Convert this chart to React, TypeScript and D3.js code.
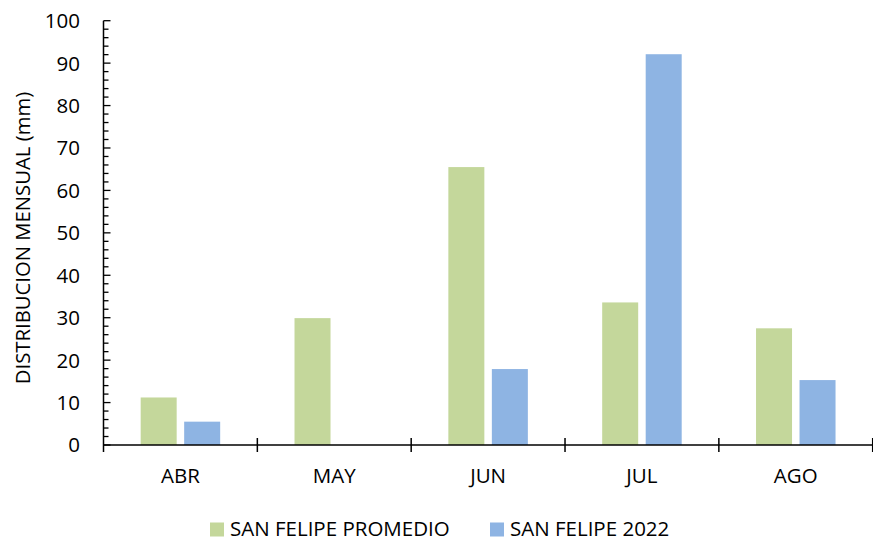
import React from "react";
import * as d3 from "d3";

const categories = ["ABR", "MAY", "JUN", "JUL", "AGO"];
const seriesNames = ["SAN FELIPE PROMEDIO", "SAN FELIPE 2022"];
const promedio = [11.2, 29.9, 65.5, 33.6, 27.5];
const s2022 = [5.5, 0, 17.9, 92.1, 15.3];
const yTicks = [0, 10, 20, 30, 40, 50, 60, 70, 80, 90, 100];
const colors = ["#C4D79B", "#8EB4E3"];

const W = 873, H = 544;
const M = { left: 103.5, right: 873 - 872.7, top: 20.7, bottom: 544 - 445 };
const FONT = "'Open Sans', 'Noto Sans', sans-serif";
const FS = 20.5;

export default function App() {
  const x = d3.scaleBand<string>().domain(categories).range([M.left, W - M.right]).paddingInner(0).paddingOuter(0);
  const y = d3.scaleLinear().domain([0, 100]).range([H - M.bottom, M.top]);
  const bw = x.bandwidth();
  const barW = 36;
  const gap = 7.5;
  const offset = (bw - 2 * barW - gap) / 2;
  const series = [promedio, s2022];
  const minor = d3.range(0, 101, 2);
  const y0 = y(0);
  return (
    <svg width={W} height={H} style={{ position: "absolute", left: 0, top: 0, fontFamily: FONT }}>
      <rect width={W} height={H} fill="#fff" />
      {series.map((vals, si) =>
        categories.map((c, i) => {
          const v = vals[i];
          if (!v) return null;
          const bx = (x(c) as number) + offset + si * (barW + gap);
          return (
            <rect key={si + "-" + c} x={bx} y={y(v)} width={barW} height={y0 - y(v)} fill={colors[si]} />
          );
        })
      )}
      {/* y axis */}
      <line x1={M.left} x2={M.left} y1={M.top} y2={y0 + 7} stroke="#000" strokeWidth={1.5} />
      {minor.map((t) => (
        <line key={"m" + t} x1={M.left} x2={M.left + (t % 10 === 0 ? 7 : 5)} y1={y(t)} y2={y(t)} stroke="#000" strokeWidth={1.3} />
      ))}
      {yTicks.map((t) => (
        <text key={"t" + t} x={80} y={y(t)} dy="0.36em" textAnchor="end" fontSize={FS} fill="#000">
          {t}
        </text>
      ))}
      {/* x axis */}
      <line x1={M.left} x2={W - M.right} y1={y0} y2={y0} stroke="#000" strokeWidth={1.5} />
      {categories.map((c, i) => (
        <line key={"xt" + c} x1={(x(c) as number) + bw} x2={(x(c) as number) + bw} y1={y0 - 7} y2={y0 + 7} stroke="#000" strokeWidth={1.5} />
      ))}
      {categories.map((c) => (
        <text key={"xl" + c} x={(x(c) as number) + bw / 2} y={475.5} dy="0.36em" textAnchor="middle" fontSize={FS} fill="#000">
          {c}
        </text>
      ))}
      <text transform={`translate(23,238) rotate(-90)`} textAnchor="middle" dy="0.36em" fontSize={20.3} fill="#000">
        DISTRIBUCION MENSUAL (mm)
      </text>
      {/* legend */}
      {[210, 490].map((lx, i) => (
        <g key={"lg" + i}>
          <rect x={lx} y={522.5} width={14} height={14} fill={colors[i]} />
          <text x={lx + 20} y={529} dy="0.36em" fontSize={FS} fill="#000">
            {seriesNames[i]}
          </text>
        </g>
      ))}
    </svg>
  );
}
